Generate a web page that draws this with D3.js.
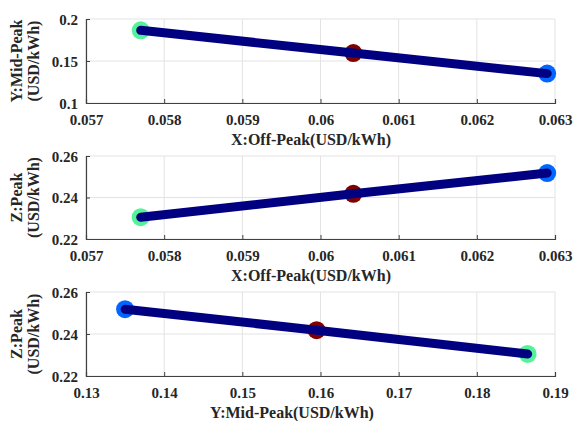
<!DOCTYPE html>
<html>
<head>
<meta charset="utf-8">
<script src="https://cdn.jsdelivr.net/npm/d3@7"></script>
<style>
  body { margin: 0; background: #fff; }
</style>
</head>
<body>
<div id="chart"></div>
<script>
const WIDTH = 575;
const HEIGHT = 421;
const FONT = "Liberation Serif";

// tariff values at the three solutions (green, red, blue)
const offPeak = [0.05770, 0.06042, 0.06290];
const midPeak = [0.1865, 0.1595, 0.1350];
const peak = [0.2305, 0.2418, 0.2518];
const markerColors = ["#55f29a", "#800000", "#0066ff"];

const xTicksOff = [0.057, 0.058, 0.059, 0.06, 0.061, 0.062, 0.063];
const xTicksMid = [0.13, 0.14, 0.15, 0.16, 0.17, 0.18, 0.19];
const yTicksMid = [0.1, 0.15, 0.2];
const yTicksPeak = [0.22, 0.24, 0.26];

const panels = [
  { xs: offPeak, ys: midPeak, xDom: [0.057, 0.063], yDom: [0.1, 0.2], xTicks: xTicksOff, yTicks: yTicksMid,
    xLabel: "X:Off-Peak(USD/kWh)", yLabel: ["Y:Mid-Peak", "(USD/kWh)"], top: 19, bottom: 103, xLabelX: 311 },
  { xs: offPeak, ys: peak, xDom: [0.057, 0.063], yDom: [0.22, 0.26], xTicks: xTicksOff, yTicks: yTicksPeak,
    xLabel: "X:Off-Peak(USD/kWh)", yLabel: ["Z:Peak", "(USD/kWh)"], top: 156, bottom: 239, xLabelX: 311 },
  { xs: midPeak, ys: peak, xDom: [0.13, 0.19], yDom: [0.22, 0.26], xTicks: xTicksMid, yTicks: yTicksPeak,
    xLabel: "Y:Mid-Peak(USD/kWh)", yLabel: ["Z:Peak", "(USD/kWh)"], top: 292, bottom: 376, xLabelX: 292 }
];

const LEFT = 86;
const RIGHT = 555;

const svg = d3.select("#chart").append("svg")
  .attr("width", WIDTH)
  .attr("height", HEIGHT);

panels.forEach(p => {
  const x = d3.scaleLinear().domain(p.xDom).range([LEFT, RIGHT]);
  const y = d3.scaleLinear().domain(p.yDom).range([p.bottom, p.top]);
  const g = svg.append("g");

  // grid
  g.append("g").selectAll("line.gx").data(p.xTicks).enter().append("line")
    .attr("x1", d => x(d)).attr("x2", d => x(d))
    .attr("y1", p.top).attr("y2", p.bottom)
    .attr("stroke", "#e3e3e3").attr("stroke-width", 1);
  g.append("g").selectAll("line.gy").data(p.yTicks).enter().append("line")
    .attr("x1", LEFT).attr("x2", RIGHT)
    .attr("y1", d => y(d)).attr("y2", d => y(d))
    .attr("stroke", "#e3e3e3").attr("stroke-width", 1);

  // axes (ticks pointing inward)
  const xAxis = d3.axisBottom(x).tickValues(p.xTicks).tickSize(-4).tickPadding(8)
    .tickFormat(d => String(+d.toFixed(3)));
  const yAxis = d3.axisLeft(y).tickValues(p.yTicks).tickSize(-4).tickPadding(8)
    .tickFormat(d => String(+d.toFixed(3)));

  const gx = g.append("g").attr("transform", `translate(0,${p.bottom})`).call(xAxis);
  const gy = g.append("g").attr("transform", `translate(${LEFT},0)`).call(yAxis);
  [gx, gy].forEach(a => {
    a.attr("font-family", FONT);
    a.select(".domain").attr("stroke", "#404040").attr("stroke-width", 1.2);
    a.selectAll(".tick line").attr("stroke", "#404040");
    a.selectAll("text")
      .attr("font-family", FONT).attr("font-weight", "bold")
      .attr("font-size", 15).attr("fill", "#262626");
  });
  gx.selectAll("text").attr("dy", "0.9em");
  gy.selectAll("text").attr("dy", "0.36em");

  // labels
  g.append("text")
    .attr("x", p.xLabelX).attr("y", p.bottom + 42)
    .attr("text-anchor", "middle")
    .attr("font-family", FONT).attr("font-weight", "bold")
    .attr("font-size", 16).attr("fill", "#262626")
    .text(p.xLabel);
  const cy = (p.top + p.bottom) / 2;
  const yl = g.append("text")
    .attr("transform", `translate(22,${cy}) rotate(-90)`)
    .attr("text-anchor", "middle")
    .attr("font-family", FONT).attr("font-weight", "bold")
    .attr("font-size", 16).attr("fill", "#262626");
  yl.append("tspan").attr("x", 0).attr("dy", 0).text(p.yLabel[0]);
  yl.append("tspan").attr("x", 0).attr("dy", 17).text(p.yLabel[1]);

  const pts = p.xs.map((v, i) => ({ x: v, y: p.ys[i], c: markerColors[i] }));

  // markers
  g.append("g").selectAll("circle").data(pts).enter().append("circle")
    .attr("cx", d => x(d.x)).attr("cy", d => y(d.y))
    .attr("r", 9)
    .attr("fill", d => d.c);

  // line on top
  g.append("path")
    .datum(pts)
    .attr("d", d3.line().x(d => x(d.x)).y(d => y(d.y)))
    .attr("fill", "none")
    .attr("stroke", "#000080")
    .attr("stroke-width", 9)
    .attr("stroke-linecap", "round");
});
</script>
</body>
</html>
